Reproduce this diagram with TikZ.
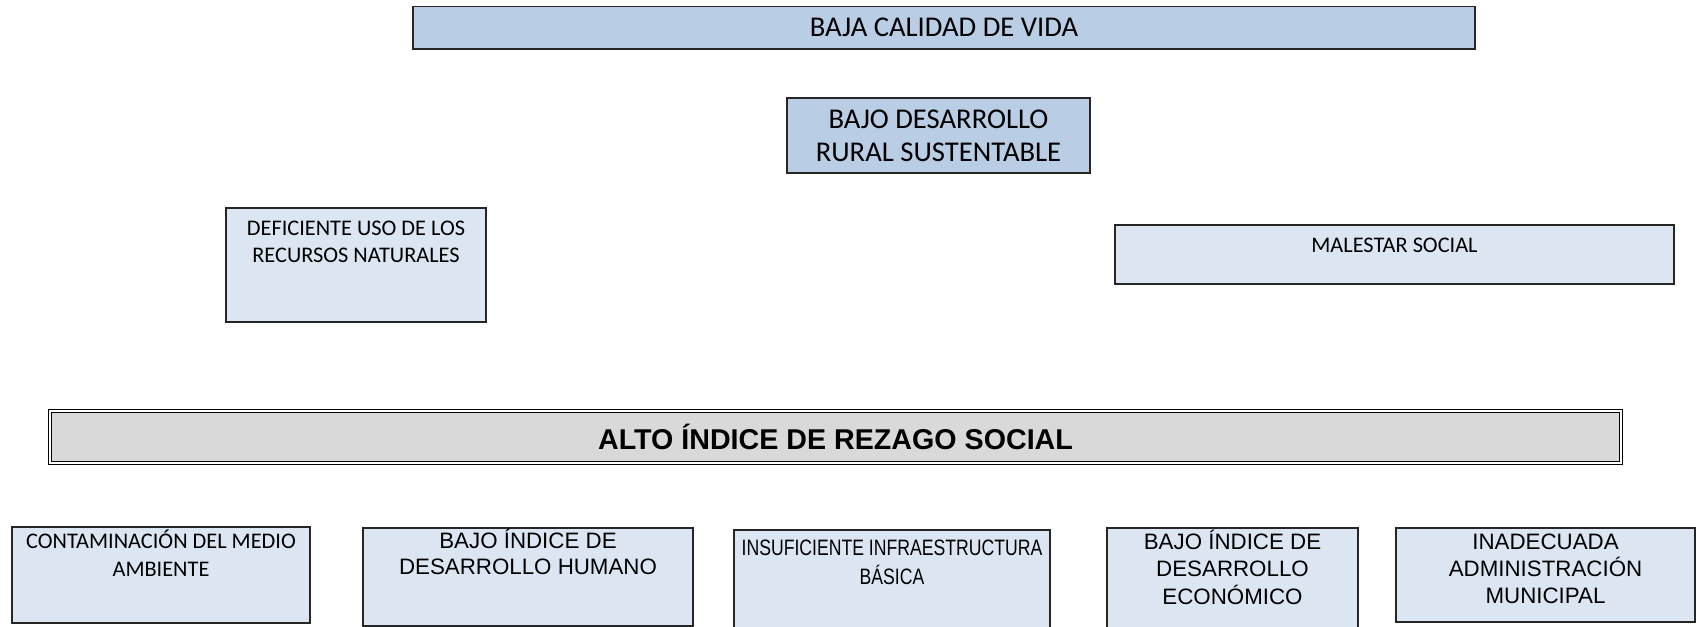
\documentclass[tikz,border=0pt]{standalone}
\usepackage{fontspec}
\setmainfont{Carlito}
\newfontfamily\arialfont{Liberation Sans}
\newfontfamily\narrowfont[FakeStretch=0.79]{Liberation Sans}
\definecolor{cajaazul}{HTML}{B9CDE5}
\definecolor{cajaclara}{HTML}{DCE6F2}
\definecolor{cajagris}{HTML}{D9D9D9}

\begin{document}
\begin{tikzpicture}[
    caja/.style={rectangle, draw=black!85, line width=0.7pt, inner sep=0pt},
    efecto/.style={caja, fill=cajaazul, align=center, font=\fontsize{16.3}{18.8}\selectfont},
    causa/.style={caja, fill=cajaclara},
    texto/.style={anchor=base, align=center, inner sep=0pt, font=\fontsize{12.7}{15.4}\selectfont},
    arial/.style={texto, font=\arialfont\fontsize{12.7}{#1}\selectfont}]
    \clip (0,0) rectangle (34.12,-12.54);

    % Effects
    \node[efecto, minimum width=21.24cm, minimum height=0.85cm] (calidad) at (18.88,-0.555) {BAJA CALIDAD DE VIDA};
    \node[efecto, minimum width=6.06cm, minimum height=1.50cm] (rural) at (18.77,-2.71) {BAJO DESARROLLO\\RURAL SUSTENTABLE};

    \node[causa, minimum width=5.20cm, minimum height=2.28cm] (recursos) at (7.12,-5.30) {};
    \node[texto] (t-recursos) at (7.12,-5.254) {DEFICIENTE USO DE LOS\\RECURSOS NATURALES};
    \node[causa, minimum width=11.18cm, minimum height=1.18cm] (malestar) at (27.89,-5.09) {};
    \node[texto] (t-malestar) at (27.89,-5.06) {MALESTAR SOCIAL};

    % Central problem
    \node[rectangle, draw, line width=0.5pt, double=white, double distance=0.05cm, fill=cajagris,
          minimum width=31.42cm, minimum height=1.04cm, font=\arialfont\bfseries\fontsize{16.3}{19}\selectfont]
          (rezago) at (16.71,-8.74) {ALTO ÍNDICE DE REZAGO SOCIAL};

    % Causes
    \node[causa, minimum width=5.96cm, minimum height=1.92cm] (contaminacion) at (3.22,-11.50) {};
    \node[texto] (t-contaminacion) at (3.22,-11.52) {CONTAMINACIÓN DEL MEDIO\\AMBIENTE};
    \node[causa, minimum width=6.60cm, minimum height=1.96cm] (humano) at (10.56,-11.54) {};
    \node[arial=14.8] (t-humano) at (10.56,-11.494) {BAJO ÍNDICE DE\\DESARROLLO HUMANO};
    \node[causa, minimum width=6.32cm, minimum height=2.20cm] (infraestructura) at (17.84,-11.70) {};
    \node[texto, font=\narrowfont\fontsize{12.7}{16.5}\selectfont] (t-infraestructura) at (17.84,-11.69) {INSUFICIENTE INFRAESTRUCTURA\\BÁSICA};
    \node[causa, minimum width=5.02cm, minimum height=2.24cm] (economico) at (24.65,-11.68) {};
    \node[arial=15.6] (t-economico) at (24.65,-12.08) {BAJO ÍNDICE DE\\DESARROLLO\\ECONÓMICO};
    \node[causa, minimum width=5.98cm, minimum height=1.88cm] (administracion) at (30.91,-11.50) {};
    \node[arial=15.1] (t-administracion) at (30.91,-12.06) {INADECUADA\\ADMINISTRACIÓN\\MUNICIPAL};
\end{tikzpicture}
\end{document}
